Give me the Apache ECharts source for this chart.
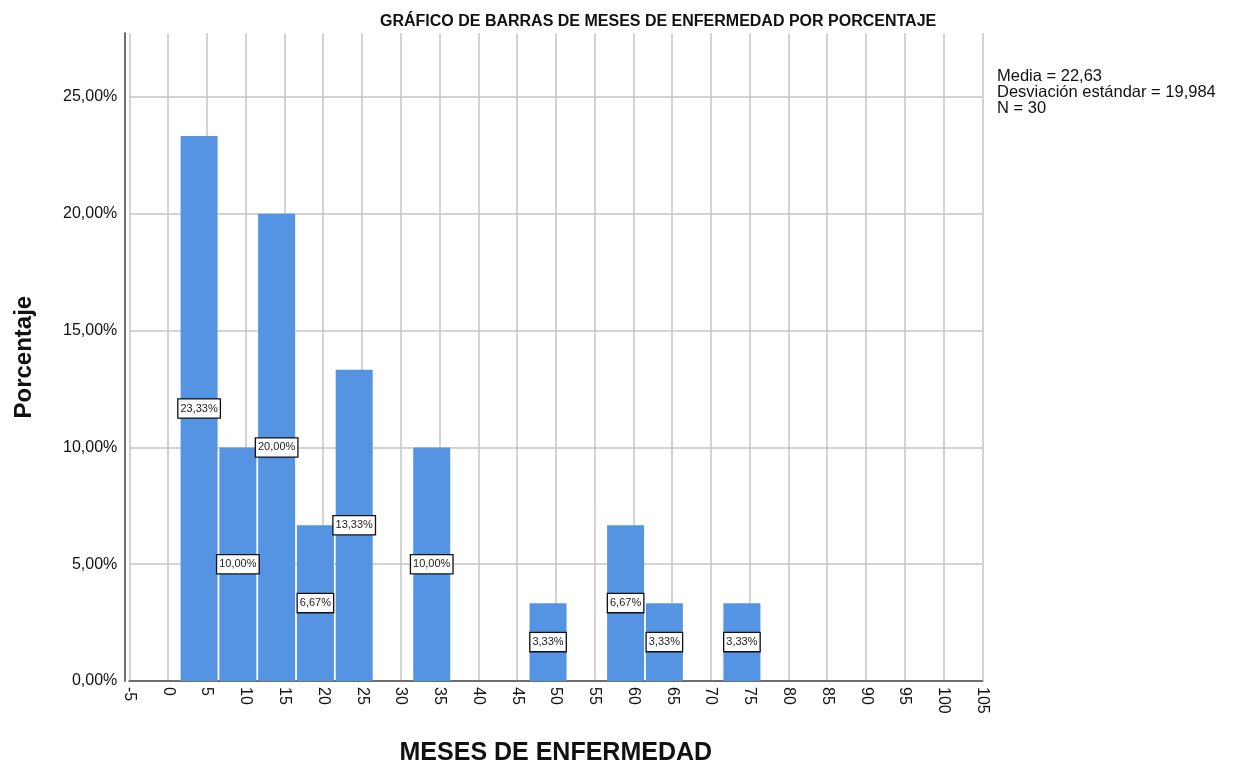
<!DOCTYPE html>
<html>
<head>
<meta charset="utf-8">
<style>
  html, body { margin: 0; padding: 0; background: #fff; }
  #chart { width: 1233px; height: 766px; }
</style>
<script src="https://cdn.jsdelivr.net/npm/echarts@6/dist/echarts.min.js"></script>
</head>
<body>
<div id="chart"></div>
<script>
// centro de cada intervalo (meses) y porcentaje
var binCenters = [4, 9, 14, 19, 24, 34, 49, 59, 64, 74];
var percentages = [23.33, 10.00, 20.00, 6.67, 13.33, 10.00, 3.33, 6.67, 3.33, 3.33];
var statsLines = ['Media = 22,63', 'Desviación estándar = 19,984', 'N = 30'];
var yTicks = [0, 5, 10, 15, 20, 25];

var chart = echarts.init(document.getElementById('chart'));

var barData = binCenters.map(function (x, i) {
  return [x, percentages[i]];
});

var option = {
  animation: false,
  textStyle: { fontFamily: 'Arial, "Liberation Sans", sans-serif' },
  title: {
    text: 'GRÁFICO DE BARRAS DE MESES DE ENFERMEDAD POR PORCENTAJE',
    left: 375,
    top: 9,
    textStyle: {
      fontFamily: '"Liberation Sans Narrow", "Arial Narrow", Arial, sans-serif',
      fontWeight: 'bold',
      fontSize: 16,
      color: '#111'
    }
  },
  graphic: [{
    type: 'text',
    left: 997,
    top: 68,
    style: {
      text: statsLines.join('\n'),
      fontSize: 16.5,
      lineHeight: 16,
      fill: '#111',
      fontFamily: 'Arial, "Liberation Sans", sans-serif'
    }
  }],
  grid: {
    left: 129.3,
    right: 250.7,
    top: 33.3,
    bottom: 85,
    containLabel: false,
    outerBoundsMode: 'none'
  },
  xAxis: {
    type: 'value',
    min: -5,
    max: 105,
    interval: 5,
    name: 'MESES DE ENFERMEDAD',
    nameLocation: 'middle',
    nameGap: 60,
    nameTextStyle: { fontSize: 25, fontWeight: 'bold', color: '#111' },
    axisLine: { show: true, onZero: false, lineStyle: { color: '#6e6e6e', width: 2 } },
    axisTick: { show: false },
    axisLabel: {
      rotate: -90,
      margin: 6,
      fontSize: 16,
      color: '#111',
      formatter: function (v) { return String(v); }
    },
    splitLine: { show: true, lineStyle: { color: '#c4c4c4', width: 1.5 } }
  },
  yAxis: {
    type: 'value',
    min: 0,
    max: 27.73,
    interval: 5,
    offset: 5,
    name: 'Porcentaje',
    nameLocation: 'middle',
    nameGap: 88,
    nameTextStyle: { fontSize: 24, fontWeight: 'bold', color: '#111' },
    axisLine: { show: true, onZero: false, lineStyle: { color: '#6e6e6e', width: 2 } },
    axisTick: { show: false },
    axisLabel: {
      margin: 7,
      fontSize: 16,
      color: '#111',
      showMaxLabel: false,
      formatter: function (v) {
        if (yTicks.indexOf(v) < 0) return '';
        return v.toFixed(2).replace('.', ',') + '%';
      }
    },
    splitLine: { show: true, showMaxLine: false, lineStyle: { color: '#c4c4c4', width: 1.5 } }
  },
  series: [{
    type: 'bar',
    data: barData,
    barWidth: 37,
    itemStyle: { color: '#5494e3' },
    label: {
      show: true,
      position: 'inside',
      fontSize: 11,
      color: '#222',
      backgroundColor: '#fff',
      borderColor: '#111',
      borderWidth: 1.3,
      padding: [4, 2, 3, 2],
      formatter: function (p) {
        return p.value[1].toFixed(2).replace('.', ',') + '%';
      }
    }
  }]
};

chart.setOption(option);
</script>
</body>
</html>
